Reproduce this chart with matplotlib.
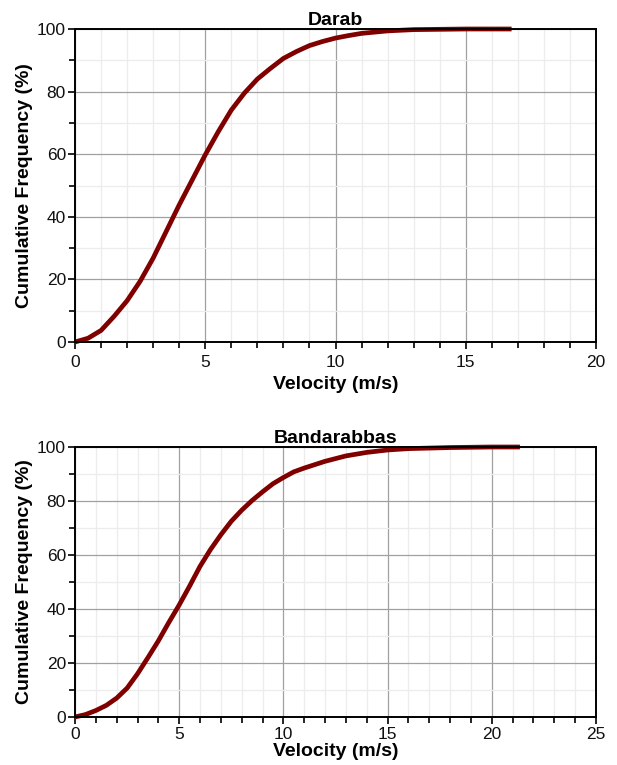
import matplotlib
matplotlib.use("Agg")
import matplotlib.pyplot as plt
from matplotlib.ticker import MultipleLocator

plt.rcParams['font.family'] = ['Liberation Sans', 'DejaVu Sans']

# Darab
darab_v = [0, 0.5, 1.0, 1.5, 2.0, 2.5, 3.0, 3.5, 4.0, 4.5, 5.0, 5.5, 6.0, 6.5, 7.0, 7.5,
           8.0, 8.5, 9.0, 9.5, 10.0, 10.5, 11.0, 11.5, 12.0, 13.0, 14.0, 15.0, 16.0, 16.76]
darab_cf = [0, 1.2, 3.7, 8.2, 13.2, 19.4, 26.8, 35.3, 43.8, 51.8, 59.8, 67.2, 74.1, 79.5, 84.0, 87.4,
            90.6, 92.8, 94.7, 96.0, 97.1, 97.9, 98.6, 99.0, 99.4, 99.8, 99.9, 100.0, 100.0, 100.0]

# Bandarabbas
band_v = [0, 0.5, 1.0, 1.5, 2.0, 2.5, 3.0, 3.5, 4.0, 4.5, 5.0, 5.5, 6.0, 6.5, 7.0, 7.5, 8.0,
          8.5, 9.0, 9.5, 10.0, 10.5, 11.0, 12.0, 13.0, 14.0, 15.0, 16.0, 17.0, 18.0, 19.0, 20.0, 21.35]
band_cf = [0, 0.9, 2.4, 4.3, 7.0, 10.7, 16.0, 22.0, 28.2, 35.0, 41.5, 48.5, 55.8, 62.0, 67.5, 72.5, 76.6,
           80.2, 83.4, 86.4, 88.7, 90.8, 92.2, 94.7, 96.7, 98.0, 98.9, 99.4, 99.6, 99.8, 99.9, 100.0, 100.0]

titles = ["Darab", "Bandarabbas"]
xmaxes = [20, 25]
series = [(darab_v, darab_cf), (band_v, band_cf)]
positions = [[75/617, (765-342)/765, (596-75)/617, (342-29)/765],
             [75/617, (765-717)/765, (596-75)/617, (717-447)/765]]
xlabel_y = [(342-376)/313, (717-743)/270]
tick_pads = [4.5, 2.5]

fig = plt.figure(figsize=(6.17, 7.65), dpi=100)
for title, xmax, (v, cf), pos, xly, tp in zip(titles, xmaxes, series, positions, xlabel_y, tick_pads):
    ax = fig.add_axes(pos)
    ax.plot(v, cf, color='#800000', lw=3.4, solid_joinstyle='round', solid_capstyle='butt',
            clip_on=False, zorder=5)
    ax.set_xlim(0, xmax)
    ax.set_ylim(0, 100)
    ax.xaxis.set_major_locator(MultipleLocator(5))
    ax.xaxis.set_minor_locator(MultipleLocator(1))
    ax.yaxis.set_major_locator(MultipleLocator(20))
    ax.yaxis.set_minor_locator(MultipleLocator(10))
    ax.grid(which='major', color='#a0a0a0', lw=0.9)
    ax.grid(which='minor', color='#ececec', lw=0.9)
    ax.set_axisbelow(True)
    ax.tick_params(which='major', direction='out', length=5, width=1.2, labelsize=12.5,
                   labelcolor='#111111')
    ax.tick_params(axis='x', which='major', pad=tp)
    ax.tick_params(axis='y', which='major', pad=1.5)
    ax.tick_params(which='minor', direction='out', length=4, width=1.2)
    for s in ax.spines.values():
        s.set_linewidth(1.4)
        s.set_zorder(6)
    ax.set_title(title, fontsize=14, fontweight='bold', pad=3)
    ax.set_xlabel("Velocity (m/s)", fontsize=14, fontweight='bold')
    ax.set_ylabel("Cumulative Frequency (%)", fontsize=14, fontweight='bold')
    ax.xaxis.set_label_coords(0.5, xly)
    ax.yaxis.set_label_coords(-0.080, 0.5)

fig.savefig("out.png", dpi=100)
